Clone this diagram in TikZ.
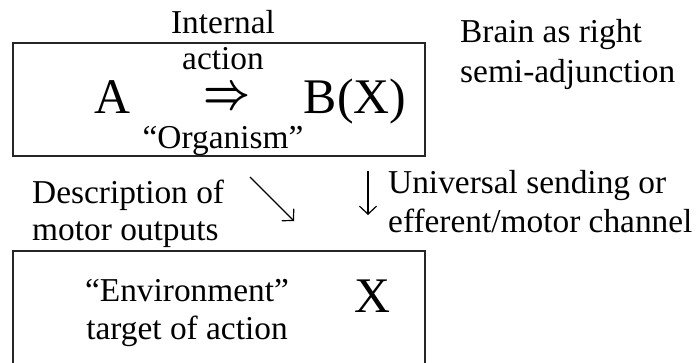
\documentclass[tikz,border=0pt]{standalone}
\usepackage{fontspec}
\usepackage{graphicx}
\setmainfont{Liberation Serif}
\usetikzlibrary{arrows.meta, positioning}

\begin{document}
\begin{tikzpicture}[x=1bp, y=-1bp,
    frame/.style={draw=black!85, line width=1.6bp},
    txt/.style={inner sep=0pt, font=\fontsize{33.5}{38}\selectfont},
    big/.style={inner sep=0pt, font=\fontsize{50}{60}\selectfont},
    pointer/.style={-{Straight Barb[length=8bp, width=17bp]}, line width=1.2bp}]
  \useasboundingbox (0,0) rectangle (698,362);

  % boxes
  \draw[frame] (13,43) rectangle (425,156);
  \draw[frame] (13,251) rectangle (425,400);

  % organism box
  \node[txt, anchor=north, align=center, font=\fontsize{33.5}{36}\selectfont] (internal) at (223,10) {Internal\\action};
  \node[big, anchor=base] (objA) at (112,113) {A};
  \node[inner sep=0pt] (imp) at (227,98.5) {\resizebox{47bp}{20bp}{\boldmath$\Rightarrow$}};
  \node[big, anchor=base] (objB) at (355,113) {B(X)};
  \node[txt, anchor=base] (organism) at (223,148) {``Organism''};

  % side notes
  \node[txt, anchor=north west, align=left, font=\fontsize{33.5}{40}\selectfont] (brain) at (460,19) {Brain as right\\semi-adjunction};
  \node[txt, anchor=north west, align=left, font=\fontsize{33.5}{37}\selectfont] (description) at (32,180) {Description of\\motor outputs};
  \node[txt, anchor=north west, align=left, font=\fontsize{33.5}{39}\selectfont] (channel) at (388,170) {Universal sending or\\efferent/motor channel};

  % arrows
  \coordinate (diagfrom) at (250,177);
  \coordinate (diagto) at (294,221);
  \coordinate (downfrom) at (368,171);
  \coordinate (downto) at (368,215);
  \draw[pointer] (diagfrom) -- (diagto);
  \draw[pointer] (downfrom) -- (downto);

  % environment box
  \node[txt, anchor=north, align=center] (environment) at (187,279) {``Environment''\\target of action};
  \node[big, anchor=base] (objX) at (372,312) {X};
\end{tikzpicture}
\end{document}
